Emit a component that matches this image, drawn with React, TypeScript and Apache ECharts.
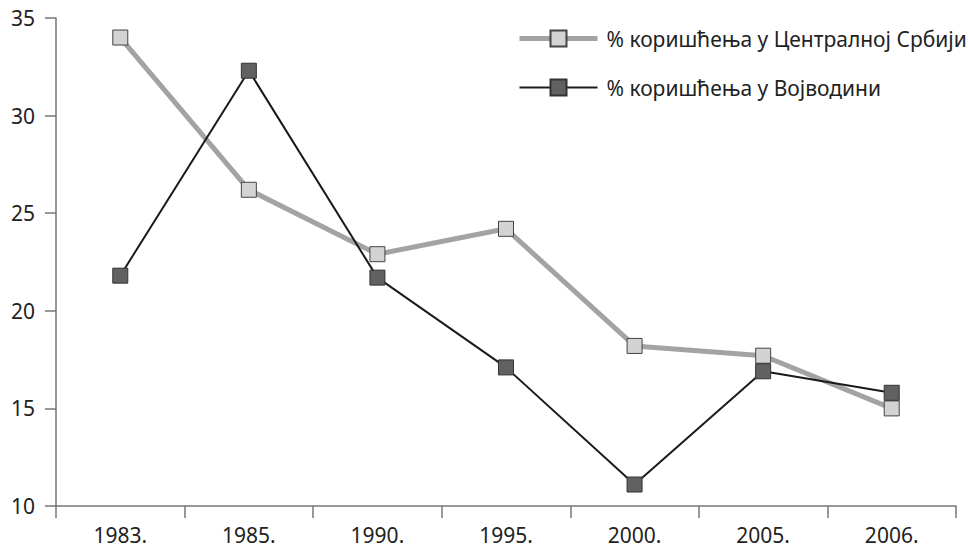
import React, { useEffect, useRef } from "react";
import * as echarts from "echarts";

const categories = ["1983.", "1985.", "1990.", "1995.", "2000.", "2005.", "2006."];
const centralSerbia = [34.0, 26.2, 22.9, 24.2, 18.2, 17.7, 15.0];
const vojvodina = [21.8, 32.3, 21.7, 17.1, 11.1, 16.9, 15.8];
const seriesNames = ["% коришћења у Централној Србији", "% коришћења у Војводини"];

const FONT = "'Noto Sans', 'Open Sans', sans-serif";

export default function App() {
  const ref = useRef<HTMLDivElement>(null);
  useEffect(() => {
    document.body.style.margin = "0";
    if (!ref.current) return;
    const chart = echarts.init(ref.current, null, { renderer: "svg" });
    chart.setOption({
      animation: false,
      backgroundColor: "#ffffff",
      grid: { left: 56, right: 12, top: 18, bottom: 44, containLabel: false },
      legend: {
        orient: "vertical",
        left: 512,
        top: 23,
        itemWidth: 78,
        itemHeight: 20,
        itemGap: 28,
        textStyle: { fontFamily: FONT, fontSize: 21, color: "#222", padding: [0, 0, 0, 4] },
        data: [
          { name: seriesNames[0], lineStyle: { width: 5, color: "#a3a3a3" } },
          { name: seriesNames[1], lineStyle: { width: 2, color: "#1a1a1a" } },
        ],
      },
      textStyle: { fontFamily: FONT, fontSize: 21, color: "#222" },
      xAxis: {
        type: "category",
        data: categories,
        boundaryGap: true,
        axisLine: { lineStyle: { color: "#777", width: 1.5 } },
        axisTick: { show: true, length: 12, lineStyle: { color: "#777", width: 1.5 } },
        axisLabel: { show: true, fontFamily: FONT, fontSize: 21, color: "#222", margin: 18 },
      },
      yAxis: {
        type: "value",
        min: 10,
        max: 35,
        interval: 5,
        splitLine: { show: false },
        axisLine: { show: true, lineStyle: { color: "#777", width: 1.5 } },
        axisTick: { show: true, length: 11, lineStyle: { color: "#777", width: 1.5 } },
        axisLabel: { show: true, fontFamily: FONT, fontSize: 21, color: "#222", margin: 21 },
      },
      series: [
        {
          name: seriesNames[0],
          type: "line",
          data: centralSerbia,
          symbol: "rect",
          symbolSize: 15,
          lineStyle: { color: "#a3a3a3", width: 5 },
          itemStyle: { color: "#d3d3d3", borderColor: "#444", borderWidth: 1 },
          z: 2,
        },
        {
          name: seriesNames[1],
          type: "line",
          data: vojvodina,
          symbol: "rect",
          symbolSize: 15,
          lineStyle: { color: "#1a1a1a", width: 2 },
          itemStyle: { color: "#616161", borderColor: "#333", borderWidth: 1 },
          z: 3,
        },
      ],
    });
    return () => chart.dispose();
  }, []);
  return <div ref={ref} style={{ width: 968, height: 550 }} />;
}
